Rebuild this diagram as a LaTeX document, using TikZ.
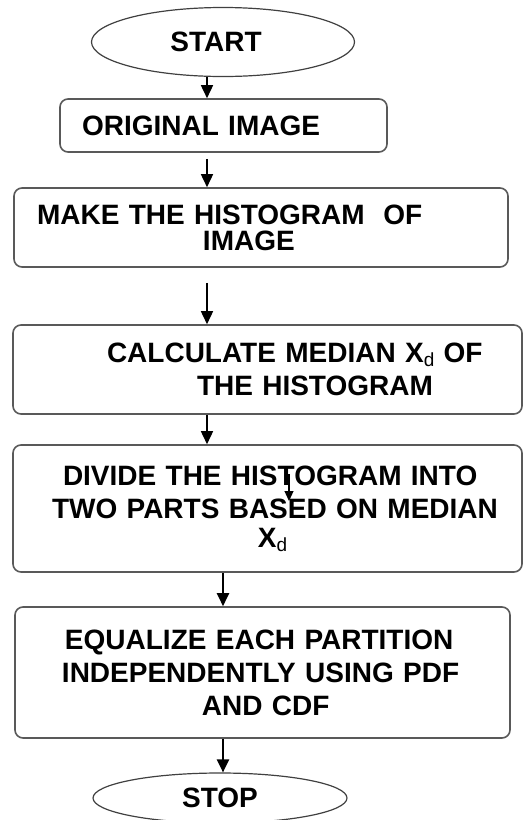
\documentclass[tikz,border=0pt]{standalone}
\usepackage{fontspec}
\setmainfont{Liberation Sans}
\usetikzlibrary{positioning, arrows.meta, shapes.geometric}
\newcommand{\Xsub}{X\raisebox{-4pt}{\fontsize{19}{19}\mdseries\selectfont d}}

\begin{document}
\begin{tikzpicture}[
    x=1pt, y=-1pt,
    every node/.style={font=\fontsize{28}{33}\selectfont\bfseries},
    terminal/.style 2 args={
        ellipse, draw=black!75, line width=1.2pt, inner sep=0pt,
        minimum width=#1, minimum height=#2
    },
    stepbox/.style 2 args={
        rectangle, rounded corners=8pt, draw=black!65, line width=1.6pt,
        inner xsep=0pt, inner ysep=0pt, align=left,
        text width=#1, minimum height=#2
    },
    flow/.style={-{Triangle[width=12pt, length=13pt]}, line width=1.6pt, draw=black},
    heavyflow/.style={flow, line width=2.2pt},
    smallflow/.style={-{Triangle[width=9pt, length=10pt]}, line width=1.2pt, draw=black}
]
\useasboundingbox (0,0) rectangle (524,820);

% Axes of the connectors
\coordinate (axisL) at (207,0);
\coordinate (axisR) at (223,0);

% Terminals
\node[terminal={263pt}{69pt}] (start) at (223,42) {START\hspace*{14pt}};
\node[terminal={254pt}{50pt}] (stop) at (220,798) {STOP};

% Process steps
\node[stepbox={327pt}{53pt}] (orig) at (223.5,125.5) {\hspace*{22pt}ORIGINAL IMAGE};
\node[stepbox={494pt}{79pt}] (hist) at (261,227.5)
    {\hspace*{23pt}MAKE THE HISTOGRAM\ \ OF\\[-7pt]\hspace*{189pt}IMAGE};
\node[stepbox={509pt}{89pt}] (median) at (267.5,369.5)
    {\hspace*{94pt}CALCULATE MEDIAN \Xsub{} OF\\\hspace*{184pt}THE HISTOGRAM};
\node[stepbox={509pt}{127pt}] (divide) at (267.5,508.5)
    {\hspace*{50pt}DIVIDE THE HISTOGRAM INTO\\\hspace*{39pt}TWO PARTS BASED ON MEDIAN\\[-4pt]\hspace*{245pt}\Xsub};
\node[stepbox={495pt}{131pt}] (equal) at (262.5,672.5)
    {\hspace*{50pt}EQUALIZE EACH PARTITION\\\hspace*{47pt}INDEPENDENTLY USING PDF\\\hspace*{187pt}AND CDF};

% Stray arrow inside the divide step
\coordinate (strayA) at (289,474);
\coordinate (strayB) at (289,501);

% === Connectors ===
\draw[flow] (start.south -| axisL) -- (orig.north -| axisL);
\draw[flow] ([yshift=-6pt]orig.south -| axisL) -- (hist.north -| axisL);
\draw[flow, shorten <=15pt] (hist.south -| axisL) -- (median.north -| axisL);
\draw[flow] (median.south -| axisL) -- (divide.north -| axisL);
\draw[heavyflow] (divide.south -| axisR) -- (equal.north -| axisR);
\draw[heavyflow] (equal.south -| axisR) -- (stop.north -| axisR);
\draw[smallflow] (strayA) -- (strayB);

\end{tikzpicture}
\end{document}
